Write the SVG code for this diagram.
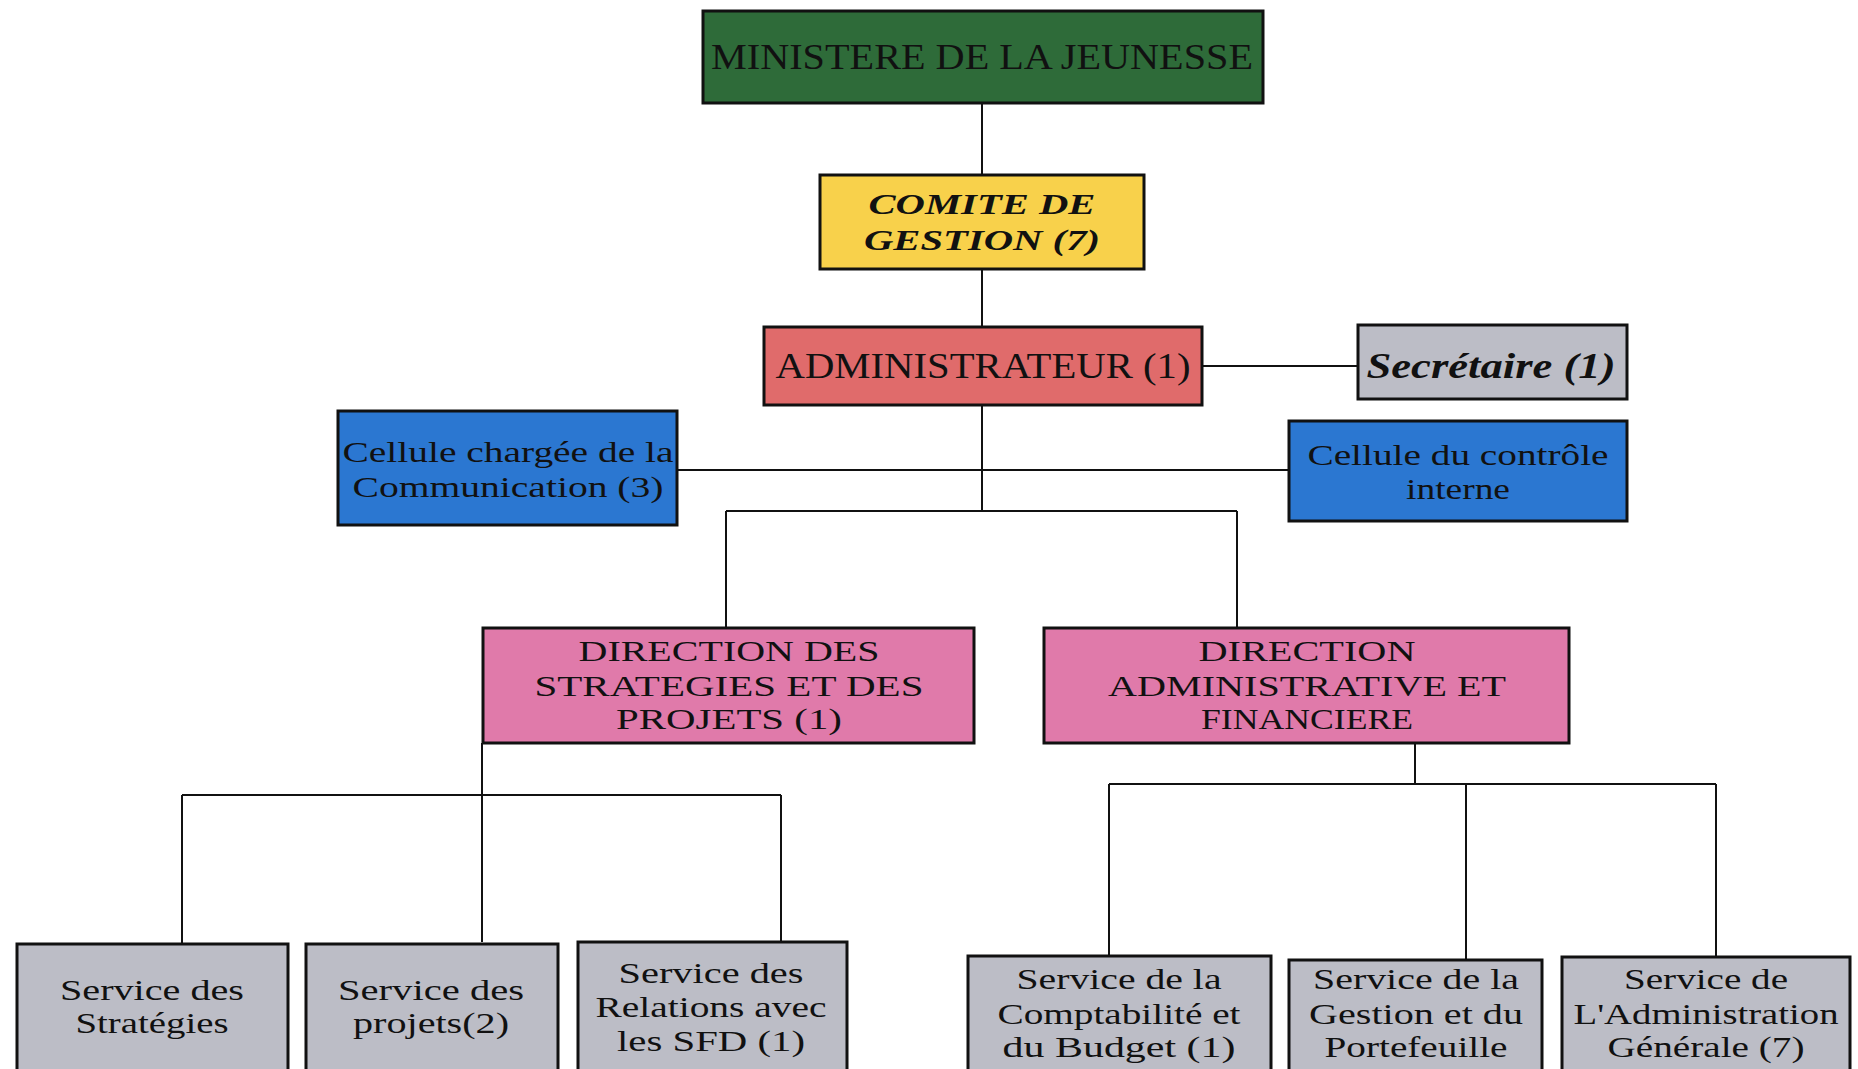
<svg xmlns="http://www.w3.org/2000/svg" width="1858" height="1069" viewBox="0 0 1858 1069">
<style>
.box{stroke:#111;stroke-width:3}
.t{font-family:"Liberation Serif","Times New Roman",serif;font-size:30px;fill:#111;text-anchor:middle}
.big{font-size:36px}
.bi{font-weight:bold;font-style:italic}
.c{fill:none;stroke:#111;stroke-width:2}
</style>
<rect width="1858" height="1069" fill="#fff"/>
<g id="connectors">
<path class="c" d="M982 103V175M982 269V327M1202 366H1358M982 405V511M677 470H1289M726 511H1237M726 511V628M1237 511V628"/>
<path class="c" d="M482 743V942M182 795H781M182 795V944M781 795V942"/>
<path class="c" d="M1415 743V784M1109 784H1716M1109 784V956M1466 784V960M1716 784V957"/>
</g>
<g id="ministere">
<rect class="box" x="703" y="11" width="560" height="92" fill="#2e6b39"/>
<text class="t big" x="982" y="69" textLength="542" lengthAdjust="spacingAndGlyphs">MINISTERE DE LA JEUNESSE</text>
</g>
<g id="comite">
<rect class="box" x="820" y="175" width="324" height="94" fill="#f8d14b"/>
<text class="t bi" x="982" y="214" textLength="227" lengthAdjust="spacingAndGlyphs">COMITE DE</text>
<text class="t bi" x="982" y="250" textLength="236" lengthAdjust="spacingAndGlyphs">GESTION (7)</text>
</g>
<g id="administrateur">
<rect class="box" x="764" y="327" width="438" height="78" fill="#e06b6b"/>
<text class="t big" x="983" y="378" textLength="415" lengthAdjust="spacingAndGlyphs">ADMINISTRATEUR (1)</text>
</g>
<g id="secretaire">
<rect class="box" x="1358" y="325" width="269" height="74" fill="#bcbdc6"/>
<text class="t big bi" x="1491" y="378" textLength="249" lengthAdjust="spacingAndGlyphs">Secrétaire (1)</text>
</g>
<g id="communication">
<rect class="box" x="338" y="411" width="339" height="114" fill="#2b77d1"/>
<text class="t" x="508" y="462" textLength="331" lengthAdjust="spacingAndGlyphs">Cellule chargée de la</text>
<text class="t" x="508" y="497" textLength="311" lengthAdjust="spacingAndGlyphs">Communication (3)</text>
</g>
<g id="controle">
<rect class="box" x="1289" y="421" width="338" height="100" fill="#2b77d1"/>
<text class="t" x="1458" y="465" textLength="301" lengthAdjust="spacingAndGlyphs">Cellule du contrôle</text>
<text class="t" x="1458" y="499" textLength="104" lengthAdjust="spacingAndGlyphs">interne</text>
</g>
<g id="dsp">
<rect class="box" x="483" y="628" width="491" height="115" fill="#e07aaa"/>
<text class="t" x="729" y="661" textLength="301" lengthAdjust="spacingAndGlyphs">DIRECTION DES</text>
<text class="t" x="729" y="696" textLength="389" lengthAdjust="spacingAndGlyphs">STRATEGIES ET DES</text>
<text class="t" x="729" y="729" textLength="226" lengthAdjust="spacingAndGlyphs">PROJETS (1)</text>
</g>
<g id="daf">
<rect class="box" x="1044" y="628" width="525" height="115" fill="#e07aaa"/>
<text class="t" x="1307" y="661" textLength="217" lengthAdjust="spacingAndGlyphs">DIRECTION</text>
<text class="t" x="1307" y="696" textLength="398" lengthAdjust="spacingAndGlyphs">ADMINISTRATIVE ET</text>
<text class="t" x="1307" y="729" textLength="212" lengthAdjust="spacingAndGlyphs">FINANCIERE</text>
</g>
<g id="s-strategies">
<rect class="box" x="17" y="944" width="271" height="135" fill="#bcbdc6"/>
<text class="t" x="152" y="1000" textLength="184" lengthAdjust="spacingAndGlyphs">Service des</text>
<text class="t" x="152" y="1033" textLength="153" lengthAdjust="spacingAndGlyphs">Stratégies</text>
</g>
<g id="s-projets">
<rect class="box" x="306" y="944" width="252" height="135" fill="#bcbdc6"/>
<text class="t" x="431" y="1000" textLength="186" lengthAdjust="spacingAndGlyphs">Service des</text>
<text class="t" x="431" y="1033" textLength="156" lengthAdjust="spacingAndGlyphs">projets(2)</text>
</g>
<g id="s-relations">
<rect class="box" x="578" y="942" width="269" height="137" fill="#bcbdc6"/>
<text class="t" x="711" y="983" textLength="185" lengthAdjust="spacingAndGlyphs">Service des</text>
<text class="t" x="711" y="1017" textLength="231" lengthAdjust="spacingAndGlyphs">Relations avec</text>
<text class="t" x="711" y="1051" textLength="188" lengthAdjust="spacingAndGlyphs">les SFD (1)</text>
</g>
<g id="s-comptabilite">
<rect class="box" x="968" y="956" width="303" height="123" fill="#bcbdc6"/>
<text class="t" x="1119" y="989" textLength="205" lengthAdjust="spacingAndGlyphs">Service de la</text>
<text class="t" x="1119" y="1024" textLength="243" lengthAdjust="spacingAndGlyphs">Comptabilité et</text>
<text class="t" x="1119" y="1057" textLength="233" lengthAdjust="spacingAndGlyphs">du Budget (1)</text>
</g>
<g id="s-gestion">
<rect class="box" x="1289" y="960" width="253" height="119" fill="#bcbdc6"/>
<text class="t" x="1416" y="989" textLength="206" lengthAdjust="spacingAndGlyphs">Service de la</text>
<text class="t" x="1416" y="1024" textLength="214" lengthAdjust="spacingAndGlyphs">Gestion et du</text>
<text class="t" x="1416" y="1057" textLength="183" lengthAdjust="spacingAndGlyphs">Portefeuille</text>
</g>
<g id="s-administration">
<rect class="box" x="1562" y="957" width="288" height="122" fill="#bcbdc6"/>
<text class="t" x="1706" y="989" textLength="164" lengthAdjust="spacingAndGlyphs">Service de</text>
<text class="t" x="1706" y="1024" textLength="265" lengthAdjust="spacingAndGlyphs">L'Administration</text>
<text class="t" x="1706" y="1057" textLength="197" lengthAdjust="spacingAndGlyphs">Générale (7)</text>
</g>
</svg>
